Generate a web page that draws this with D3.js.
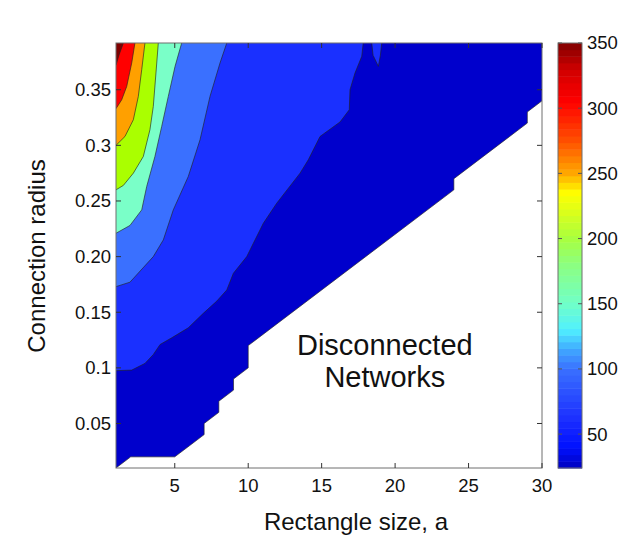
<!DOCTYPE html>
<html>
<head>
<meta charset="utf-8">
<script src="https://cdn.jsdelivr.net/npm/d3@7"></script>
<style>
  body { margin: 0; background: #fff; }
  text { font-family: "Liberation Sans", Arial, Helvetica, sans-serif; fill: #111; }
</style>
</head>
<body>
<div id="chart"></div>
<script>
const WIDTH = 623;
const HEIGHT = 542;

// axis limits
const aRange = [1, 30];          // rectangle size
const rRange = [0.01, 0.392];    // connection radius
const xTicks = [5, 10, 15, 20, 25, 30];
const yTicks = [0.05, 0.1, 0.15, 0.2, 0.25, 0.3, 0.35];
const yTickLabels = ['0.05', '0.1', '0.15', '0.20', '0.25', '0.3', '0.35'];
const cbRange = [24, 350];
const cbTicks = [50, 100, 150, 200, 250, 300, 350];

// colour stops
const cbStopValues = [24, 40, 60, 100, 115, 130, 150, 180, 200, 235, 250, 275, 305, 330, 350];
const cbStopColors = ['#0000c0', '#0010ff', '#1a2cff', '#3a70ff', '#40a8ff', '#50f0ff', '#70ffc8',
  '#8cff80', '#a8ff40', '#ffff00', '#ffa800', '#ff5000', '#ff0000', '#d00000', '#800000'];

// lower edge of the connected region, [a, r]
const connectedEdge = [[1, 0.01], [2, 0.02], [5, 0.02], [6, 0.03], [7, 0.04], [7, 0.05],
  [8, 0.06], [8, 0.07], [9, 0.08], [9, 0.09], [10, 0.10], [10, 0.12], [24, 0.26],
  [24, 0.27], [29, 0.32], [29, 0.33], [30, 0.34]];

// contour lines, read from top edge down to the left edge, [a, r]
const curve60 = [[17.83, 0.392], [17.73, 0.380], [17.27, 0.365], [16.93, 0.350], [16.88, 0.332],
  [16.25, 0.321], [14.89, 0.308], [14.09, 0.287], [13.53, 0.275], [11.94, 0.248], [11.03, 0.230],
  [10.35, 0.212], [9.90, 0.200], [8.99, 0.185], [8.54, 0.170], [7.86, 0.160], [6.94, 0.149],
  [5.92, 0.136], [4.79, 0.127], [4.00, 0.121], [3.54, 0.112], [2.97, 0.104], [2.07, 0.098], [1, 0.0975]];
const island60 = [[18.41, 0.392], [18.5, 0.381], [18.86, 0.371], [19.0, 0.381], [19.09, 0.392]];
const curve85 = [[8.54, 0.392], [8.08, 0.374], [7.40, 0.344], [6.72, 0.305], [5.92, 0.272],
  [4.90, 0.242], [4.22, 0.215], [3.54, 0.200], [1.95, 0.177], [1, 0.173]];
const curve125 = [[5.47, 0.392], [5.02, 0.371], [4.56, 0.344], [4.11, 0.317], [3.65, 0.290],
  [3.09, 0.263], [2.75, 0.242], [1.95, 0.228], [1, 0.221]];
const curve175 = [[3.88, 0.392], [3.72, 0.365], [3.54, 0.335], [3.31, 0.314], [2.86, 0.290],
  [2.18, 0.275], [1.50, 0.264], [1, 0.260]];
const curve225 = [[2.97, 0.392], [2.75, 0.368], [2.52, 0.344], [2.18, 0.323], [1.61, 0.308], [1, 0.300]];
const curve275 = [[2.29, 0.392], [2.07, 0.374], [1.73, 0.353], [1.39, 0.341], [1, 0.333]];
const curve325 = [[1.50, 0.392], [1.2, 0.381], [1, 0.372]];

// fill of each band, lowest first
const bandColors = ['#0000cc', '#1a30ff', '#3a70ff', '#7affc8', '#aaff00', '#ffa000', '#ff0000', '#800000'];

const svg = d3.select('#chart').append('svg')
  .attr('width', WIDTH)
  .attr('height', HEIGHT);

const x = d3.scaleLinear().domain(aRange).range([116, 542]);
const y = d3.scaleLinear().domain(rRange).range([468, 43]);
const line = d3.line().x(d => x(d[0])).y(d => y(d[1]));

svg.append('defs').append('clipPath').attr('id', 'plotclip')
  .append('rect')
  .attr('x', x(aRange[0])).attr('y', y(rRange[1]))
  .attr('width', x(aRange[1]) - x(aRange[0]))
  .attr('height', y(rRange[0]) - y(rRange[1]));

const plot = svg.append('g').attr('clip-path', 'url(#plotclip)');

// connected region, darkest band
const region = connectedEdge.concat([[aRange[1], rRange[1]], [aRange[0], rRange[1]]]);
plot.append('path')
  .attr('d', line(region) + 'Z')
  .attr('fill', bandColors[0]);

// each higher band lies above / left of its contour line
const curves = [curve60, curve85, curve125, curve175, curve225, curve275, curve325];
curves.forEach((c, i) => {
  plot.append('path')
    .attr('d', line(c.concat([[aRange[0], rRange[1]]])) + 'Z')
    .attr('fill', bandColors[i + 1]);
});
plot.append('path')
  .attr('d', line(island60) + 'Z')
  .attr('fill', bandColors[1]);

// contour lines
curves.concat([island60]).forEach(c => {
  plot.append('path')
    .attr('d', line(c))
    .attr('fill', 'none')
    .attr('stroke', '#222')
    .attr('stroke-opacity', 0.8)
    .attr('stroke-width', 0.8);
});
plot.append('path')
  .attr('d', line(connectedEdge))
  .attr('fill', 'none')
  .attr('stroke', '#222')
  .attr('stroke-opacity', 0.8)
  .attr('stroke-width', 0.8);

// box and ticks
const axisColor = '#6e6e6e';
svg.append('rect')
  .attr('x', x(aRange[0])).attr('y', y(rRange[1]))
  .attr('width', x(aRange[1]) - x(aRange[0]))
  .attr('height', y(rRange[0]) - y(rRange[1]))
  .attr('fill', 'none')
  .attr('stroke', axisColor)
  .attr('stroke-width', 1);

const tickLen = 5;
const tk = svg.append('g').attr('stroke', '#333').attr('stroke-width', 1);
xTicks.forEach(v => {
  tk.append('line').attr('x1', x(v)).attr('x2', x(v))
    .attr('y1', y(rRange[0])).attr('y2', y(rRange[0]) - tickLen);
  tk.append('line').attr('x1', x(v)).attr('x2', x(v))
    .attr('y1', y(rRange[1])).attr('y2', y(rRange[1]) + tickLen);
});
yTicks.forEach(v => {
  tk.append('line').attr('x1', x(aRange[0])).attr('x2', x(aRange[0]) + tickLen)
    .attr('y1', y(v)).attr('y2', y(v));
  tk.append('line').attr('x1', x(aRange[1])).attr('x2', x(aRange[1]) - tickLen)
    .attr('y1', y(v)).attr('y2', y(v));
});

svg.append('g').selectAll('text')
  .data(xTicks)
  .enter().append('text')
  .attr('x', d => x(d))
  .attr('y', 492)
  .attr('text-anchor', 'middle')
  .attr('font-size', 18.5)
  .text(d => d);

svg.append('g').selectAll('text')
  .data(yTicks)
  .enter().append('text')
  .attr('x', 111)
  .attr('y', d => y(d))
  .attr('dy', '0.35em')
  .attr('text-anchor', 'end')
  .attr('font-size', 18.5)
  .text((d, i) => yTickLabels[i]);

svg.append('text')
  .attr('x', 356)
  .attr('y', 530)
  .attr('text-anchor', 'middle')
  .attr('font-size', 24)
  .text('Rectangle size, a');

svg.append('text')
  .attr('transform', 'translate(45,256) rotate(-90)')
  .attr('text-anchor', 'middle')
  .attr('font-size', 24)
  .text('Connection radius');

// annotation in the white region
const note = svg.append('text')
  .attr('text-anchor', 'middle')
  .attr('font-size', 29);
note.append('tspan').attr('x', x(19.3)).attr('y', 355).text('Disconnected');
note.append('tspan').attr('x', x(19.3)).attr('y', 387).text('Networks');

// colorbar, 64 discrete steps
const cbColor = d3.scaleLinear().domain(cbStopValues).range(cbStopColors).interpolate(d3.interpolateRgb);
const cy = d3.scaleLinear().domain(cbRange).range([468, 43]);
const nColors = 64;
const step = (cbRange[1] - cbRange[0]) / nColors;
const cells = d3.range(nColors).map(i => ({ lo: cbRange[0] + i * step, hi: cbRange[0] + (i + 1) * step }));
const cbX = 558, cbW = 24;
svg.append('g').selectAll('rect')
  .data(cells)
  .enter().append('rect')
  .attr('x', cbX)
  .attr('y', d => cy(d.hi))
  .attr('width', cbW)
  .attr('height', d => cy(d.lo) - cy(d.hi) + 0.5)
  .attr('fill', d => cbColor((d.lo + d.hi) / 2));
svg.append('rect')
  .attr('x', cbX).attr('y', cy(cbRange[1]))
  .attr('width', cbW).attr('height', cy(cbRange[0]) - cy(cbRange[1]))
  .attr('fill', 'none')
  .attr('stroke', axisColor);
const cbt = svg.append('g').attr('stroke', '#555').attr('stroke-width', 1);
cbTicks.forEach(v => {
  cbt.append('line').attr('x1', cbX).attr('x2', cbX + 4).attr('y1', cy(v)).attr('y2', cy(v));
  cbt.append('line').attr('x1', cbX + cbW).attr('x2', cbX + cbW - 4).attr('y1', cy(v)).attr('y2', cy(v));
});
svg.append('g').selectAll('text')
  .data(cbTicks)
  .enter().append('text')
  .attr('x', cbX + cbW + 5)
  .attr('y', d => cy(d))
  .attr('dy', '0.35em')
  .attr('font-size', 18.5)
  .text(d => d);
</script>
</body>
</html>
